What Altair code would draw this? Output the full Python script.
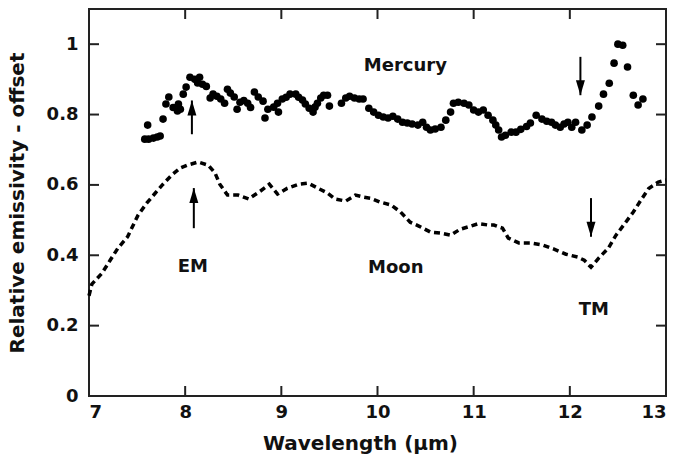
import altair as alt
import pandas as pd

# Mercury emissivity spectrum (dots)
mercury_wl = [7.58, 7.61, 7.62, 7.67, 7.71, 7.74, 7.77, 7.80, 7.83, 7.875, 7.92, 7.93, 7.95,
              7.98, 8.01, 8.05, 8.10, 8.13, 8.15, 8.18, 8.22, 8.26, 8.29, 8.33, 8.37, 8.41,
              8.44, 8.47, 8.51, 8.54, 8.57, 8.61, 8.65, 8.68, 8.72, 8.76, 8.81, 8.83, 8.86,
              8.92, 8.96, 8.97, 9.01, 9.05, 9.09, 9.15, 9.18, 9.22, 9.25, 9.29, 9.33, 9.35,
              9.375, 9.41, 9.44, 9.48, 9.50, 9.625, 9.67, 9.71, 9.76, 9.81, 9.85, 9.91, 9.96,
              10.01, 10.06, 10.11, 10.16, 10.21, 10.26, 10.31, 10.36, 10.42, 10.47, 10.51,
              10.55, 10.60, 10.66, 10.71, 10.76, 10.79, 10.84, 10.90, 10.95, 11.00, 11.05,
              11.10, 11.15, 11.20, 11.23, 11.26, 11.29, 11.33, 11.39, 11.44, 11.49, 11.55,
              11.59, 11.65, 11.71, 11.76, 11.81, 11.85, 11.90, 11.94, 11.98, 12.02, 12.06,
              12.125, 12.18, 12.23, 12.30, 12.35, 12.41, 12.46, 12.50, 12.55, 12.60, 12.66,
              12.71, 12.76]
mercury_em = [0.730, 0.770, 0.730, 0.733, 0.736, 0.739, 0.787, 0.830, 0.850, 0.820, 0.810, 0.830, 0.815,
              0.858, 0.878, 0.906, 0.900, 0.890, 0.906, 0.886, 0.880, 0.847, 0.858, 0.852, 0.844, 0.832,
              0.872, 0.861, 0.850, 0.815, 0.835, 0.840, 0.832, 0.820, 0.864, 0.850, 0.838, 0.790, 0.815,
              0.821, 0.832, 0.807, 0.844, 0.849, 0.858, 0.858, 0.849, 0.841, 0.830, 0.818, 0.807, 0.821,
              0.832, 0.847, 0.855, 0.855, 0.824, 0.832, 0.847, 0.852, 0.847, 0.844, 0.844, 0.818, 0.807,
              0.798, 0.793, 0.790, 0.795, 0.787, 0.778, 0.776, 0.773, 0.770, 0.778, 0.764,
              0.756, 0.759, 0.764, 0.784, 0.807, 0.832, 0.835, 0.832, 0.827, 0.813, 0.807,
              0.813, 0.798, 0.784, 0.770, 0.756, 0.736, 0.741, 0.750, 0.750, 0.758, 0.766,
              0.776, 0.798, 0.787, 0.781, 0.778, 0.770, 0.764, 0.773, 0.778, 0.764, 0.778,
              0.756, 0.770, 0.793, 0.824, 0.858, 0.889, 0.946, 1.000, 0.997, 0.935, 0.855,
              0.827, 0.844]

# Moon emissivity spectrum (dashed line)
moon_wl = [7.0, 7.03, 7.135, 7.22, 7.3, 7.4, 7.51, 7.6, 7.69, 7.77,
           7.86, 7.95, 8.02, 8.135, 8.24, 8.31, 8.36, 8.44, 8.55, 8.66,
           8.78, 8.875, 8.96, 9.06, 9.18, 9.28, 9.385, 9.48, 9.56, 9.67,
           9.77, 9.86, 9.93, 10.03, 10.14, 10.24, 10.34, 10.43, 10.55, 10.66,
           10.76, 10.86, 10.97, 11.05, 11.15, 11.21, 11.3, 11.36, 11.47, 11.59,
           11.72, 11.83, 11.96, 12.08, 12.15, 12.22, 12.3, 12.4, 12.48, 12.56,
           12.66, 12.74, 12.82, 12.92, 13.0]
moon_em = [0.285, 0.318, 0.349, 0.386, 0.420, 0.452, 0.514, 0.548, 0.577, 0.602,
           0.628, 0.648, 0.656, 0.665, 0.656, 0.634, 0.602, 0.571, 0.571, 0.560,
           0.582, 0.602, 0.574, 0.590, 0.602, 0.605, 0.590, 0.577, 0.560, 0.554,
           0.571, 0.565, 0.562, 0.551, 0.543, 0.523, 0.494, 0.483, 0.466, 0.463,
           0.457, 0.474, 0.483, 0.490, 0.486, 0.486, 0.477, 0.449, 0.435, 0.435,
           0.429, 0.418, 0.403, 0.395, 0.386, 0.366, 0.392, 0.420, 0.457, 0.486,
           0.523, 0.557, 0.590, 0.608, 0.614]

# Feature arrows (Christiansen feature EM, transparency feature TM)
arrow_wl = [8.07, 8.09, 12.11, 12.22]
arrow_tail = [0.744, 0.477, 0.964, 0.5625]
arrow_tip = [0.840, 0.591, 0.855, 0.4526]

# Annotation labels
label_text = ["Mercury", "EM", "Moon", "TM"]
label_wl = [10.29, 8.08, 10.19, 12.25]
label_em = [0.9375, 0.366, 0.364, 0.244]

x_ticks = [7, 8, 9, 10, 11, 12, 13]
y_ticks = [0, 0.2, 0.4, 0.6, 0.8, 1.0]
x_inner_ticks = [8, 9, 10, 11, 12]
y_inner_ticks = [0.2, 0.4, 0.6, 0.8, 1.0]

W, H = 577, 387
FONT = "DejaVu Sans"
TICK_LEN = 10
INK = "#111"

x_scale = alt.Scale(domain=[7, 13], nice=False, zero=False)
y_scale = alt.Scale(domain=[0, 1.1], nice=False)

mercury_df = pd.DataFrame({"wl": mercury_wl, "em": mercury_em})
moon_df = pd.DataFrame({"wl": moon_wl, "em": moon_em})
arrow_df = pd.DataFrame({"wl": arrow_wl, "tail": arrow_tail, "tip": arrow_tip})
arrow_df["dir"] = ["up" if t > s else "down" for s, t in zip(arrow_tail, arrow_tip)]
label_df = pd.DataFrame({"text": label_text, "wl": label_wl, "em": label_em})
xt_df = pd.DataFrame({"v": x_inner_ticks})
yt_df = pd.DataFrame({"v": y_inner_ticks})

x_axis = alt.Axis(values=x_ticks, format="d", tickSize=0, domain=False, grid=False,
                  labelPadding=7, titlePadding=12, labelFontSize=18, titleFontSize=20,
                  titleX=271,
                  labelFont=FONT, titleFont=FONT, labelFontWeight="bold",
                  titleFontWeight="bold", labelColor=INK, titleColor=INK)
y_axis = alt.Axis(values=y_ticks, format=".1~f", tickSize=0, domain=False, grid=False,
                  labelPadding=11, titlePadding=19, labelFontSize=18, titleFontSize=20,
                  labelFont=FONT, titleFont=FONT, labelFontWeight="bold",
                  titleFontWeight="bold", labelColor=INK, titleColor=INK)

moon = alt.Chart(moon_df).mark_line(
    color="black", strokeWidth=3.5, strokeDash=[6, 4], strokeCap="butt"
).encode(
    x=alt.X("wl:Q", scale=x_scale, axis=x_axis, title="Wavelength (\u00b5m)"),
    y=alt.Y("em:Q", scale=y_scale, axis=y_axis, title="Relative emissivity - offset"),
)

mercury = alt.Chart(mercury_df).mark_circle(color="black", opacity=1, size=58).encode(
    x=alt.X("wl:Q", scale=x_scale),
    y=alt.Y("em:Q", scale=y_scale),
)

shafts = alt.Chart(arrow_df).mark_rule(color="black", strokeWidth=2).encode(
    x=alt.X("wl:Q", scale=x_scale),
    y=alt.Y("tail:Q", scale=y_scale),
    y2="tip:Q",
)

heads = alt.Chart(arrow_df).mark_point(filled=True, color="black", opacity=1, size=225).encode(
    x=alt.X("wl:Q", scale=x_scale),
    y=alt.Y("tip:Q", scale=y_scale),
    shape=alt.Shape("dir:N", legend=None, scale=alt.Scale(
        domain=["up", "down"],
        range=["M0,0L0.6,2L-0.6,2Z", "M0,0L0.6,-2L-0.6,-2Z"])),
)

labels = alt.Chart(label_df).mark_text(
    font=FONT, fontSize=18, fontWeight="bold", color=INK, align="center", baseline="middle"
).encode(
    x=alt.X("wl:Q", scale=x_scale),
    y=alt.Y("em:Q", scale=y_scale),
    text="text:N",
)

# Inward-pointing ticks on all four sides of the frame
tick_style = dict(color="#222", strokeWidth=2)
x_bottom = alt.Chart(xt_df).mark_rule(**tick_style).encode(
    x=alt.X("v:Q", scale=x_scale), y=alt.value(H), y2=alt.value(H - TICK_LEN))
x_top = alt.Chart(xt_df).mark_rule(**tick_style).encode(
    x=alt.X("v:Q", scale=x_scale), y=alt.value(0), y2=alt.value(TICK_LEN))
y_left = alt.Chart(yt_df).mark_rule(**tick_style).encode(
    y=alt.Y("v:Q", scale=y_scale), x=alt.value(0), x2=alt.value(TICK_LEN))
y_right = alt.Chart(yt_df).mark_rule(**tick_style).encode(
    y=alt.Y("v:Q", scale=y_scale), x=alt.value(W), x2=alt.value(W - TICK_LEN))

chart = alt.layer(
    moon, mercury, shafts, heads, labels, x_bottom, x_top, y_left, y_right
).properties(
    width=W, height=H,
    autosize="none",
    padding={"left": 89, "top": 9, "right": 8, "bottom": 66},
    background="white",
).configure_view(
    stroke="#222", strokeWidth=2
)

chart.save("out.html", embed_options={"renderer": "svg", "actions": False})
